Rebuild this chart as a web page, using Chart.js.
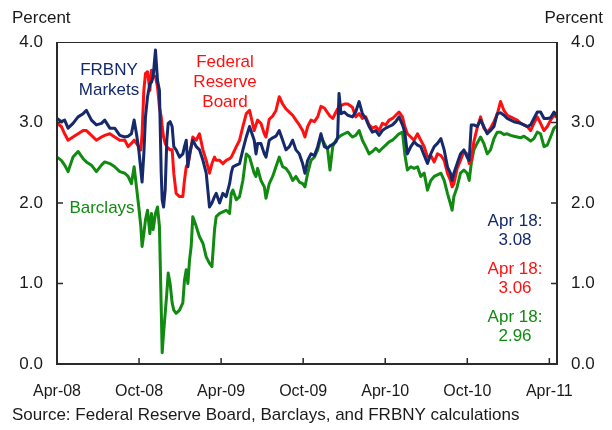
<!DOCTYPE html>
<html>
<head>
<meta charset="utf-8">
<script src="https://cdn.jsdelivr.net/npm/chart.js@4.4.0/dist/chart.umd.min.js"></script>
<style>
    html, body { margin: 0; padding: 0; background: #ffffff; }
</style>
</head>
<body>
<canvas id="grafico" width="612" height="430"></canvas>
<script>
// Dados: meses desde abr/2008 e taxas em percentual
const meses = [
    0, 0.32, 0.56, 0.81, 1.17, 1.54, 1.91, 2.15, 2.52, 2.88, 3.25, 3.49, 3.86, 4.22, 4.59, 4.96, 5.20, 5.44, 5.64, 5.81, 5.98, 6.13, 6.22, 6.35, 6.47, 6.62, 6.79, 6.91, 7.03,
    7.20, 7.35, 7.49, 7.62, 7.69, 7.79, 7.91, 8.03, 8.13, 8.27, 8.42, 8.54, 8.71, 8.96, 9.20, 9.32, 9.45, 9.57, 9.69, 9.81, 9.93, 10.18, 10.42, 10.67, 10.91, 11.15, 11.33, 11.52, 11.64, 11.89, 12.13, 12.37, 12.62, 12.74, 12.86, 13.11, 13.35, 13.59, 13.84, 14.08,
    14.42, 14.55, 14.67, 14.91, 15.16, 15.28, 15.52, 15.77, 16.01, 16.25, 16.50, 16.74, 16.99, 17.23, 17.47, 17.72, 17.96, 18.13, 18.33, 18.57, 18.82, 19.06, 19.30, 19.55, 19.79, 19.96, 20.16, 20.40, 20.52, 20.62, 20.77, 21.01, 21.26,
    21.60, 21.84, 22.09, 22.33, 22.57, 22.82, 23.06, 23.31, 23.55, 23.79, 24.04, 24.28, 24.53, 24.77, 25.01, 25.26, 25.43, 25.62, 25.87, 26.11, 26.36, 26.60, 26.85, 27.09, 27.33, 27.58, 27.82, 28.07, 28.31, 28.55,
    28.77, 28.89, 29.02, 29.26, 29.50, 29.75, 29.99, 30.14, 30.29, 30.48, 30.72, 30.97, 31.21, 31.46, 31.70, 31.95, 32.19, 32.43, 32.68, 32.92, 33.17, 33.41, 33.65, 33.90, 34.14, 34.39, 34.63, 34.87, 35.12, 35.36, 35.61, 35.85, 36.09, 36.34, 36.56
];

const frbnyMarkets = [
    3.05, 3.01, 3.03, 2.93, 2.99, 3.07, 3.11, 3.15, 3.03, 2.97, 2.99, 3.03, 2.93, 2.93, 2.84, 2.82, 2.83, 2.86, 3.03, 2.86, 2.66, 2.41, 2.26, 2.61, 3.07, 3.32, 3.48, 3.50, 3.57,
    3.90, 3.52, 3.40, 2.37, 2.04, 1.95, 2.16, 2.78, 2.99, 3.01, 2.95, 2.70, 2.66, 2.57, 2.61, 2.70, 2.78, 2.45, 2.61, 2.70, 2.78, 2.70, 2.66, 2.53, 2.37, 1.95, 2.00, 2.08, 2.12, 2.00, 2.12, 2.08, 2.24, 2.37, 2.45, 2.47, 2.49, 2.66, 2.82, 2.95,
    2.78, 2.61, 2.74, 2.74, 2.61, 2.57, 2.78, 2.81, 2.83, 2.90, 2.78, 2.66, 2.70, 2.78, 2.66, 2.61, 2.49, 2.37, 2.53, 2.61, 2.59, 2.70, 2.86, 2.70, 2.68, 2.71, 2.73, 2.76, 2.82, 3.36, 3.11, 3.13, 3.09,
    3.07, 3.13, 3.26, 3.11, 3.05, 2.95, 2.88, 2.90, 2.84, 2.90, 2.93, 2.95, 2.97, 3.01, 3.07, 2.97, 2.88, 2.61, 2.70, 2.76, 2.72, 2.70, 2.59, 2.49, 2.61, 2.70, 2.74, 2.80, 2.66, 2.45,
    2.37, 2.28, 2.37, 2.49, 2.61, 2.66, 2.57, 2.53, 2.97, 2.97, 2.95, 3.03, 2.95, 2.86, 2.90, 2.95, 3.11, 3.12, 3.09, 3.05, 3.03, 3.01, 3.00, 2.99, 2.97, 2.95, 2.97, 3.05, 3.13, 3.13, 3.05, 3.05, 3.06, 3.13, 3.08
];

const federalReserve = [
    2.99, 2.95, 2.86, 2.78, 2.82, 2.86, 2.90, 2.90, 2.84, 2.78, 2.82, 2.84, 2.86, 2.82, 2.78, 2.78, 2.70, 2.74, 2.78, 2.74, 2.70, 2.66, 2.86, 3.40, 3.61, 3.63, 3.40, 3.65, 3.57,
    3.57, 3.44, 3.19, 3.07, 2.95, 2.82, 2.74, 2.70, 2.68, 2.66, 2.66, 2.37, 2.12, 2.08, 2.08, 2.28, 2.45, 2.49, 2.57, 2.70, 2.82, 2.78, 2.86, 2.66, 2.53, 2.37, 2.49, 2.57, 2.53, 2.53, 2.49, 2.53, 2.55, 2.57, 2.61, 2.70, 2.78, 2.95, 3.11, 3.15,
    2.90, 2.97, 3.03, 2.99, 2.86, 2.82, 3.04, 3.08, 3.15, 3.32, 3.23, 3.17, 3.13, 3.09, 3.03, 2.97, 2.90, 2.82, 2.95, 3.03, 3.01, 3.07, 3.20, 3.18, 3.12, 3.08, 3.05, 3.13, 3.17, 3.19, 3.21, 3.23, 3.23,
    3.19, 3.07, 3.11, 3.05, 3.07, 2.97, 2.93, 2.95, 2.90, 2.99, 2.97, 3.03, 3.05, 3.09, 3.13, 3.07, 2.95, 2.86, 2.82, 2.78, 2.86, 2.78, 2.70, 2.57, 2.59, 2.51, 2.61, 2.59, 2.53, 2.37,
    2.28, 2.20, 2.24, 2.43, 2.53, 2.64, 2.61, 2.49, 2.53, 2.76, 2.93, 3.07, 2.93, 2.88, 2.93, 3.01, 3.10, 3.26, 3.15, 3.09, 3.07, 3.05, 3.03, 2.99, 2.97, 2.95, 2.90, 2.99, 3.07, 2.99, 2.90, 2.95, 3.03, 3.09, 3.06
];

const barclays = [
    2.57, 2.53, 2.47, 2.39, 2.57, 2.64, 2.55, 2.51, 2.47, 2.39, 2.47, 2.51, 2.49, 2.45, 2.39, 2.37, 2.33, 2.24, 2.45, 2.20, 1.95, 1.71, 1.46, 1.62, 1.79, 1.91, 1.62, 1.87, 1.67,
    1.87, 1.95, 1.71, 0.71, 0.14, 0.38, 0.63, 0.88, 1.13, 1.00, 0.76, 0.67, 0.63, 0.67, 0.76, 1.04, 1.17, 1.00, 1.29, 1.46, 1.83, 1.71, 1.58, 1.50, 1.33, 1.25, 1.21, 1.67, 1.83, 1.87, 1.89, 1.91, 1.87, 2.12, 2.16, 2.04, 2.08, 2.28, 2.61, 2.57,
    2.37, 2.33, 2.43, 2.28, 2.20, 2.06, 2.24, 2.33, 2.45, 2.57, 2.45, 2.43, 2.37, 2.28, 2.33, 2.26, 2.24, 2.20, 2.37, 2.53, 2.57, 2.66, 2.82, 2.74, 2.66, 2.41, 2.70, 2.78, 2.80, 2.82, 2.84, 2.86, 2.88,
    2.82, 2.84, 2.90, 2.78, 2.70, 2.61, 2.64, 2.68, 2.64, 2.68, 2.72, 2.76, 2.78, 2.82, 2.86, 2.88, 2.61, 2.41, 2.45, 2.43, 2.45, 2.33, 2.37, 2.16, 2.28, 2.33, 2.35, 2.37, 2.28, 2.12,
    1.99, 1.91, 2.08, 2.20, 2.37, 2.41, 2.37, 2.28, 2.49, 2.66, 2.74, 2.82, 2.74, 2.61, 2.66, 2.80, 2.88, 2.88, 2.85, 2.86, 2.84, 2.83, 2.82, 2.81, 2.83, 2.80, 2.77, 2.80, 2.88, 2.86, 2.70, 2.72, 2.82, 2.93, 2.96
];

// marcas do eixo x (meses desde abr/2008) e seus rótulos
const mesesMarcas = [0, 6, 12, 18, 24, 30, 36];
const rotulosMarcas = ['Apr-08', 'Oct-08', 'Apr-09', 'Oct-09', 'Apr-10', 'Oct-10', 'Apr-11'];
const mesFinal = 36.56; // 18 de abril de 2011

const valoresY = [0, 1, 2, 3, 4];

const fonte = "'Liberation Sans', Arial, sans-serif";
const corTexto = '#1a1a1a';
const corAzul = '#15296b';
const corVermelho = '#ff1010';
const corVerde = '#118a11';

function montarPontos(valores) {
    let pontos = [];
    for (let i = 0; i < valores.length; i++) {
        pontos.push({ x: meses[i], y: valores[i] });
    }
    return pontos;
}

// moldura, marcas internas e textos soltos
const extras = {
    id: 'extras',
    afterDraw(chart) {
        const ctx = chart.ctx;
        const area = chart.chartArea;
        const eixoX = chart.scales.x;
        const eixoY = chart.scales.y;

        ctx.save();
        ctx.strokeStyle = '#2a2a2a';
        // topo fino
        ctx.lineWidth = 1;
        ctx.beginPath();
        ctx.moveTo(area.left, area.top + 0.5);
        ctx.lineTo(area.right, area.top + 0.5);
        ctx.stroke();
        // laterais e base
        ctx.lineWidth = 2;
        ctx.beginPath();
        ctx.moveTo(area.left, area.top);
        ctx.lineTo(area.left, area.bottom);
        ctx.lineTo(area.right, area.bottom);
        ctx.lineTo(area.right, area.top);
        ctx.stroke();

        // marcas para dentro
        ctx.lineWidth = 1.5;
        ctx.beginPath();
        for (let i = 1; i < mesesMarcas.length; i++) {
            let px = eixoX.getPixelForValue(mesesMarcas[i]);
            ctx.moveTo(px, area.bottom);
            ctx.lineTo(px, area.bottom - 6);
        }
        for (let i = 1; i < valoresY.length - 1; i++) {
            let py = eixoY.getPixelForValue(valoresY[i]);
            ctx.moveTo(area.left, py);
            ctx.lineTo(area.left + 6, py);
            ctx.moveTo(area.right, py);
            ctx.lineTo(area.right - 6, py);
        }
        ctx.stroke();

        // títulos dos eixos
        ctx.fillStyle = corTexto;
        ctx.font = '17px ' + fonte;
        ctx.textBaseline = 'middle';
        ctx.textAlign = 'left';
        ctx.fillText('Percent', 12, 18);
        ctx.textAlign = 'right';
        ctx.fillText('Percent', 603, 18);

        // fonte
        ctx.textAlign = 'left';
        ctx.fillText('Source: Federal Reserve Board, Barclays, and FRBNY calculations', 12, 415);

        // nomes das séries
        ctx.font = '17px ' + fonte;
        ctx.textAlign = 'center';
        ctx.fillStyle = corAzul;
        ctx.fillText('FRBNY', 109, 70);
        ctx.fillText('Markets', 109, 90);
        ctx.fillStyle = corVermelho;
        ctx.fillText('Federal', 225, 62);
        ctx.fillText('Reserve', 225, 82);
        ctx.fillText('Board', 225, 102);
        ctx.fillStyle = corVerde;
        ctx.fillText('Barclays', 102, 208);

        // últimos valores
        ctx.fillStyle = corAzul;
        ctx.fillText('Apr 18:', 515, 221);
        ctx.fillText(frbnyMarkets[frbnyMarkets.length - 1].toFixed(2), 515, 240);
        ctx.fillStyle = corVermelho;
        ctx.fillText('Apr 18:', 515, 269);
        ctx.fillText(federalReserve[federalReserve.length - 1].toFixed(2), 515, 288);
        ctx.fillStyle = corVerde;
        ctx.fillText('Apr 18:', 515, 317);
        ctx.fillText(barclays[barclays.length - 1].toFixed(2), 515, 336);
        ctx.restore();
    }
};

function eixoY(posicao, largura) {
    return {
        type: 'linear',
        position: posicao,
        min: 0,
        max: 4,
        grid: { display: false, drawTicks: false },
        border: { display: false },
        ticks: {
            stepSize: 1,
            padding: 14,
            color: corTexto,
            font: { family: fonte, size: 17 },
            callback: function (v) { return v.toFixed(1); }
        },
        afterFit: function (scale) { scale.width = largura; }
    };
}

const config = {
    type: 'line',
    data: {
        datasets: [
            { label: 'FRBNY Markets', data: montarPontos(frbnyMarkets), borderColor: corAzul },
            { label: 'Federal Reserve Board', data: montarPontos(federalReserve), borderColor: corVermelho },
            { label: 'Barclays', data: montarPontos(barclays), borderColor: corVerde }
        ]
    },
    options: {
        responsive: false,
        animation: false,
        devicePixelRatio: 1,
        layout: { padding: { top: 42, left: 0, right: 0, bottom: 0 } },
        elements: {
            line: { borderWidth: 3, tension: 0, borderJoinStyle: 'round' },
            point: { radius: 0 }
        },
        plugins: {
            legend: { display: false },
            tooltip: { enabled: false }
        },
        scales: {
            x: {
                type: 'linear',
                min: 0,
                max: mesFinal,
                grid: { display: false, drawTicks: false },
                border: { display: false },
                afterBuildTicks: function (scale) {
                    scale.ticks = mesesMarcas.map(function (m) { return { value: m }; });
                },
                ticks: {
                    autoSkip: false,
                    maxRotation: 0,
                    padding: 18,
                    color: corTexto,
                    font: { family: fonte, size: 16 },
                    callback: function (v) {
                        let i = mesesMarcas.indexOf(v);
                        return i >= 0 ? rotulosMarcas[i] : '';
                    }
                },
                afterFit: function (scale) { scale.height = 66; }
            },
            y: eixoY('left', 57),
            y2: eixoY('right', 55)
        }
    },
    plugins: [extras]
};

let meuGrafico = new Chart(document.getElementById('grafico').getContext('2d'), config);
</script>
</body>
</html>
